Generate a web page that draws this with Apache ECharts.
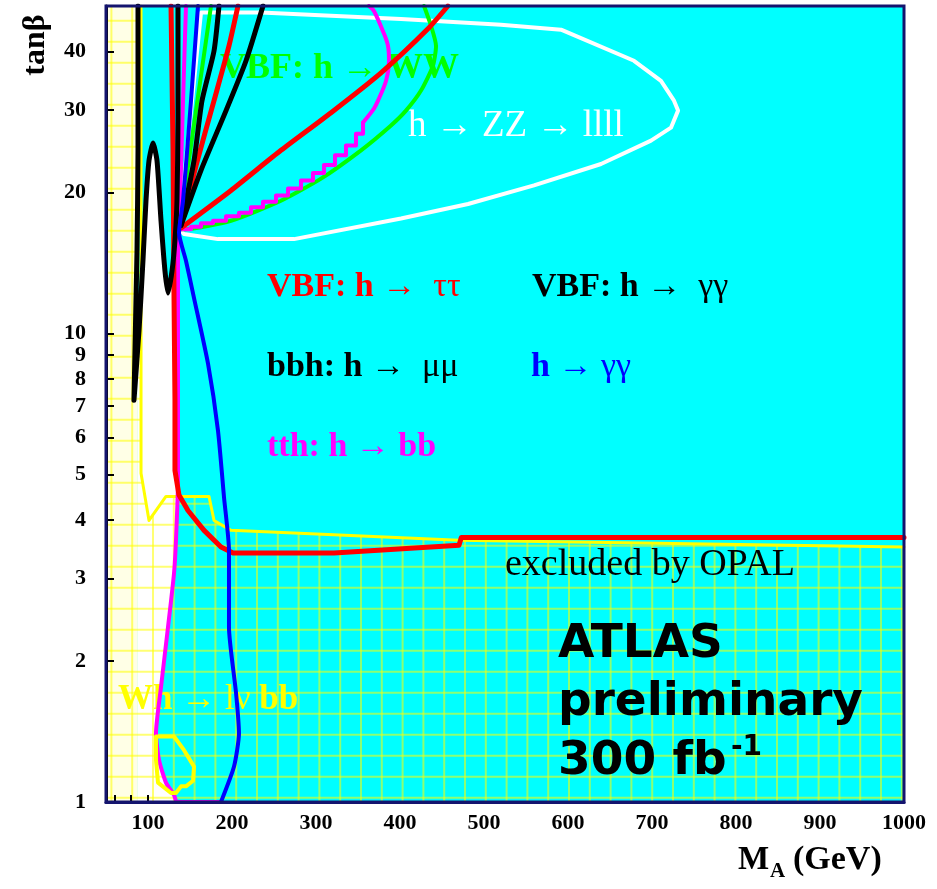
<!DOCTYPE html>
<html>
<head>
<meta charset="utf-8">
<title>MSSM discovery potential</title>
<script src="https://cdn.jsdelivr.net/npm/echarts@6/dist/echarts.min.js"></script>
<style>
	html, body { margin: 0; padding: 0; background: #fff; }
	#chart { width: 937px; height: 889px; }
</style>
</head>
<body>
<div id="chart"></div>
<script>
// axis ranges and tick labels
const xRange = [50, 1000];
const yRange = [1, 50];
const xLabels = [100, 200, 300, 400, 500, 600, 700, 800, 900, 1000];
const xSmallTicks = [60, 80, 100];
const yLabels = [1, 2, 3, 4, 5, 6, 7, 8, 9, 10, 20, 30, 40];

// contours, [M_A (GeV), tan beta]
const opalBoundary = [[91.7, 50], [91.7, 5.03], [101.2, 3.99], [121.4, 4.49], [172.6, 4.49], [178.6, 3.99], [198.8, 3.80], [470, 3.62], [1000, 3.50]];
const whLoop = [[109.5, 1.38], [131, 1.38], [142.9, 1.29], [154.8, 1.19], [153.6, 1.11], [145.2, 1.08], [139.3, 1.08], [133.3, 1.045], [127.4, 1.045], [111.9, 1.10], [109.5, 1.23], [109.5, 1.38]];
const zzContour = [[136.9, 16.7], [163.1, 48.4], [234.5, 48.4], [401.2, 46.9], [520.2, 45.6], [591.7, 44.5], [678.6, 38.2], [710.7, 34.6], [726.2, 31.4], [731, 29.9], [722.6, 27.5], [698.8, 25.8], [639.3, 23.0], [559.5, 20.7], [481, 18.9], [401.2, 17.6], [273.8, 15.9], [183.3, 15.9], [142.9, 16.3], [136.9, 16.7]];
const wwContour = [[175, 50], [136.9, 16.7], [142.9, 16.7], [198.8, 17.4], [258.3, 19.2], [306, 21.4], [353.6, 24.6], [389.3, 27.8], [407.1, 29.9], [425, 33.0], [439.3, 37.3], [442.9, 41.1], [436.9, 45.4], [428.6, 50]];
const tthLeft = [[145.2, 50], [141.7, 31.4], [136.9, 16.7], [135.7, 15.8], [135.7, 7.2], [135.7, 4.86], [133.3, 3.62], [131, 3.08], [123.8, 2.36], [115.5, 1.76], [109.5, 1.40], [113.1, 1.23], [121.4, 1.10], [131, 1.035], [134.5, 1], [184.5, 1]];
const tthSteps = [[139.3, 16.7], [151.2, 16.9], [163.1, 17.2], [177.4, 17.4], [192.9, 17.8], [208.3, 18.1], [222.6, 18.6], [236.9, 19.1], [252.4, 19.7], [266.7, 20.4], [282.1, 21.2], [296.4, 22.0], [309.5, 22.9], [322.6, 24.0], [335.7, 25.2], [347.6, 26.7], [356, 28.2]];
const tthArc = [[356, 28.2], [369, 30.2], [373.8, 31.4], [383.3, 34.6], [386.9, 38.2], [385.7, 41.1], [381, 43.6], [369, 48.8], [363, 50]];
const tautauDiag = [[139.3, 16.8], [198.8, 20.2], [258.3, 24.6], [317.9, 29.6], [377.4, 36.0], [433.3, 44.7], [457, 50]];
const tautauFan = [[139.3, 17.0], [157.1, 22.8], [178.6, 31.4], [196.4, 41.1], [207.1, 50]];
const tautauLong = [[127.4, 50], [129.8, 24.6], [131, 11.8], [132.1, 7.2], [132.1, 5.10], [136.9, 4.52], [147.6, 4.19], [166.7, 3.80], [186.9, 3.50], [201.2, 3.40], [321.4, 3.40], [470.2, 3.53], [473, 3.67], [1000, 3.67]];
const blackWiggle = [[88.1, 50], [88.1, 24.6], [86.9, 15.0], [85.7, 11.8], [83.3, 7.2], [89.3, 10.15], [94.0, 14.3], [97.6, 19.2], [101.2, 23.4], [106, 25.5], [110.7, 23.4], [115.5, 17.4], [120.2, 13.6], [123.8, 12.2], [128.6, 13.6], [132.1, 15.8], [134.5, 19.2], [135.7, 28.5], [135.7, 50]];
const blackFanInner = [[139.3, 17.0], [154.8, 23.4], [164.3, 31.4], [178.6, 40.1], [184.5, 50]];
const blackFanOuter = [[139.3, 17.0], [163.1, 22.3], [192.9, 29.9], [216.7, 38.2], [236.9, 50]];
const gammaContour = [[159.5, 50], [151.2, 31.4], [141.7, 19.2], [136.9, 16.4], [145.2, 14.3], [154.8, 11.9], [171.4, 8.63], [183.3, 6.21], [190.5, 4.47], [196.4, 3.45], [196.4, 2.36], [204.8, 1.71], [208.3, 1.40], [202.4, 1.19], [186.9, 1]];
// regions with no discovery coverage
const uncovered = [[88, 1], [88, 11.8], [94, 14.3], [97.6, 19.2], [101.2, 23.4], [106, 25.5], [110.7, 23.4], [115.5, 17.4], [120.2, 13.6], [123.8, 12.2], [128.6, 13.6], [132.1, 15.8], [135.7, 15.8], [135.7, 4.86], [133.3, 3.62], [131, 3.08], [123.8, 2.36], [115.5, 1.76], [109.5, 1.40], [113.1, 1.23], [121.4, 1.10], [131, 1.035], [134.5, 1]];
const paleStrip = [[50, 1], [88, 1], [88, 50], [50, 50]];

const SERIF = '"Liberation Serif", "DejaVu Serif", serif';
const SANS = '"DejaVu Sans", Verdana, sans-serif';

let chart = echarts.init(document.getElementById('chart'));

function curve(data, color, width, extra){
	return Object.assign({
		type: 'line',
		data: data,
		showSymbol: false,
		symbol: 'none',
		silent: true,
		z: 3,
		lineStyle: {color: color, width: width, join: 'round', cap: 'round'}
	}, extra || {});
}

function label(x, y, text, rich, extra){
	return Object.assign({
		type: 'text',
		x: x,
		y: y,
		z: 2,
		silent: true,
		style: {text: text, rich: rich, verticalAlign: 'middle', textAlign: 'left'}
	}, extra || {});
}

function tokens(color, size){
	return {
		b: {fill: color, fontSize: size, fontFamily: SERIF, fontWeight: 'bold'},
		n: {fill: color, fontSize: size, fontFamily: SERIF, fontWeight: 'normal'}
	};
}

// background: pale strip, uncovered hole, OPAL hatch grid
function renderBackground(params, api){
	let cs = params.coordSys;
	let pt = p => api.coord(p);
	let opal = [[xRange[0], yRange[1]]].concat(opalBoundary, [[xRange[1], yRange[0]], [xRange[0], yRange[0]]]).map(pt);
	let lineStyle = {stroke: 'rgba(255,255,0,0.55)', lineWidth: 2};
	let lines = [];
	for(let x = cs.x + 5.4; x < cs.x + cs.width; x += 20.8){
		lines.push({type: 'line', shape: {x1: x, y1: cs.y, x2: x, y2: cs.y + cs.height}, style: lineStyle});
	}
	for(let y = cs.y + cs.height - 4.3; y > cs.y; y -= 21){
		lines.push({type: 'line', shape: {x1: cs.x, y1: y, x2: cs.x + cs.width, y2: y}, style: lineStyle});
	}
	return {
		type: 'group',
		children: [
			{type: 'polygon', shape: {points: paleStrip.map(pt)}, style: {fill: '#ffffe6'}},
			{type: 'polygon', shape: {points: uncovered.map(pt)}, style: {fill: '#ffffff'}},
			{type: 'group', children: lines, clipPath: {type: 'polygon', shape: {points: opal}}}
		]
	};
}

let option = {
	animation: false,
	grid: {left: 106, right: 33, top: 6, bottom: 87, show: true, backgroundColor: '#00ffff', borderWidth: 0},
	xAxis: {
		type: 'value', min: xRange[0], max: xRange[1], z: 4,
		axisLine: {onZero: false, lineStyle: {color: '#14146e', width: 3}},
		axisTick: {inside: true, length: 7, customValues: xSmallTicks, lineStyle: {color: '#000', width: 2}},
		axisLabel: {customValues: xLabels, formatter: v => String(v), fontFamily: SERIF, fontWeight: 'bold', fontSize: 22, color: '#000', margin: 10},
		splitLine: {show: false}
	},
	yAxis: [
		{type: 'log', min: yRange[0], max: yRange[1], logBase: 10, show: false},
		{
			type: 'value', min: 0, max: Math.log10(yRange[1]), position: 'left', z: 4,
			axisLine: {show: true, onZero: false, lineStyle: {color: '#000', width: 3}},
			axisTick: {show: true, inside: true, length: 8, customValues: yLabels.map(Math.log10), lineStyle: {color: '#000', width: 2}},
			axisLabel: {
				customValues: yLabels.map(Math.log10),
				formatter: v => String(Math.round(Math.pow(10, v))),
				fontFamily: SERIF, fontWeight: 'bold', fontSize: 22, color: '#000', margin: 20
			},
			splitLine: {show: false}
		}
	],
	series: [
		{type: 'custom', coordinateSystem: 'cartesian2d', yAxisIndex: 0, z: 1, silent: true, clip: true,
			data: [[xRange[0], yRange[0]]], renderItem: renderBackground},
		curve(opalBoundary, '#ffff00', 3),
		curve(zzContour, '#ffffff', 4),
		curve(wwContour, '#00ff00', 4, {smooth: 0.2}),
		curve(tthLeft, '#ff00ff', 4, {smooth: 0.2}),
		curve(tthSteps, '#ff00ff', 4, {step: 'end'}),
		curve(tthArc, '#ff00ff', 4, {smooth: 0.3}),
		curve(tautauDiag, '#ff0000', 5, {smooth: 0.2}),
		curve(tautauFan, '#ff0000', 5, {smooth: 0.2}),
		curve(tautauLong, '#ff0000', 5),
		curve(blackWiggle, '#000000', 5, {smooth: 0.2}),
		curve(blackFanInner, '#000000', 5, {smooth: 0.2}),
		curve(blackFanOuter, '#000000', 5, {smooth: 0.2}),
		curve(gammaContour, '#0000ff', 4, {smooth: 0.2}),
		curve(whLoop, '#ffff00', 4)
	],
	graphic: [
		{type: 'rect', z: 10, silent: true, shape: {x: 106, y: 6, width: 798, height: 796}, style: {fill: null, stroke: '#14146e', lineWidth: 3}},
		label(220, 69, '{b|VBF: h }{n|→ }{b|WW}', tokens('#00ff00', 36)),
		label(408, 126, '{n|h → ZZ → llll}', tokens('#ffffff', 37)),
		label(267, 287, '{b|VBF: h }{n|→  ττ}', tokens('#ff0000', 34)),
		label(532, 287, '{b|VBF: h }{n|→  γγ}', tokens('#000000', 34)),
		label(267, 367, '{b|bbh: h }{n|→  μμ}', tokens('#000000', 34)),
		label(531, 367, '{b|h }{n|→ γγ}', tokens('#0000ff', 34)),
		label(267, 447, '{b|tth: h }{n|→ }{b|bb}', tokens('#ff00ff', 34)),
		label(505, 565, '{n|excluded by OPAL}', tokens('#000000', 38)),
		label(118, 700, '{b|Wh }{n|→ lν }{b|bb}', tokens('#ffff00', 35)),
		label(558, 645, 'ATLAS', null, {style: {text: 'ATLAS', fill: '#000', font: 'bold 47px ' + SANS, verticalAlign: 'middle'}}),
		label(558, 703, 'preliminary', null, {style: {text: 'preliminary', fill: '#000', font: 'bold 47px ' + SANS, verticalAlign: 'middle'}}),
		label(558, 762, '300 fb', null, {style: {text: '300 fb', fill: '#000', font: 'bold 47px ' + SANS, verticalAlign: 'middle'}}),
		label(731, 748, '-1', null, {style: {text: '-1', fill: '#000', font: 'bold 28px ' + SANS, verticalAlign: 'middle'}}),
		// axis titles
		label(36, 45, 'tanβ', null, {rotation: Math.PI / 2, style: {text: 'tanβ', fill: '#000', font: 'bold 32px ' + SERIF, textAlign: 'center', verticalAlign: 'middle'}}),
		label(738, 860, 'M', null, {style: {text: 'M', fill: '#000', font: 'bold 33px ' + SERIF, verticalAlign: 'middle'}}),
		label(770, 872, 'A', null, {style: {text: 'A', fill: '#000', font: 'bold 21px ' + SERIF, verticalAlign: 'middle'}}),
		label(793, 860, '(GeV)', null, {style: {text: '(GeV)', fill: '#000', font: 'bold 34px ' + SERIF, verticalAlign: 'middle'}})
	]
};

chart.setOption(option);
</script>
</body>
</html>
